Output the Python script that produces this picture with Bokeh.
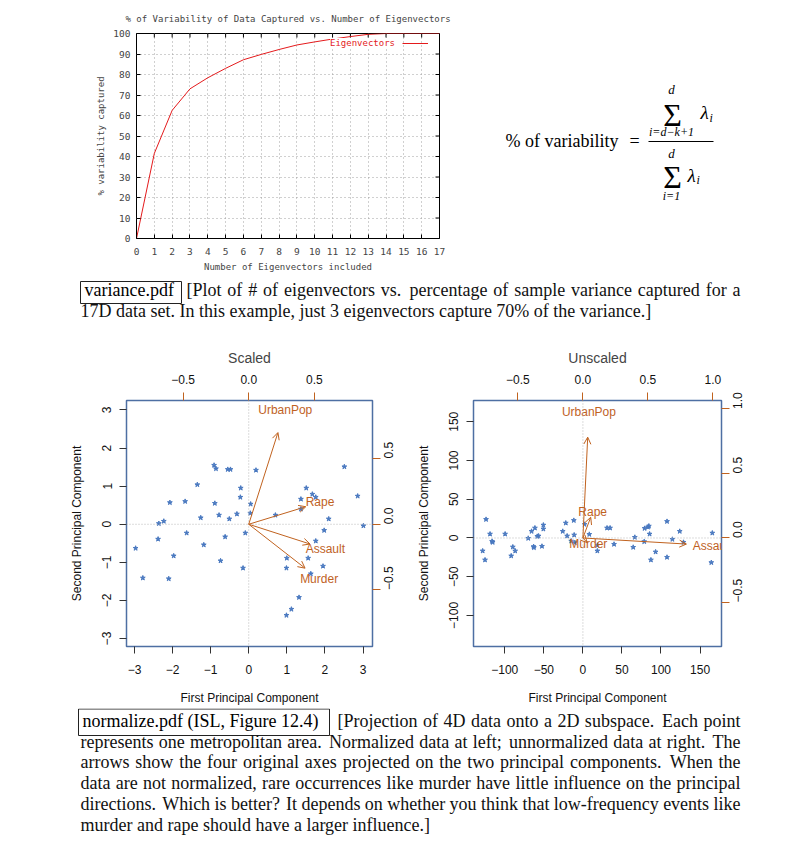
import glob
import numpy as np
from bokeh.plotting import figure
from bokeh.layouts import column, row
from bokeh.models import (Range1d, LinearAxis, ColumnDataSource, Arrow, OpenHead,
                          Span, Legend, LegendItem, Spacer)
from bokeh.core.properties import value
from bokeh.embed import file_html
from bokeh.resources import INLINE

# ---------------- data: variance plot ----------------
n_eigenvectors = list(range(18))
pct_captured = [0, 41.5, 62.5, 73.0, 78.4, 83.0, 87.2, 89.8, 92.2, 94.4, 95.9,
                97.3, 98.5, 99.6, 100, 100, 100, 100]
var_xticks = list(range(18))
var_yticks = list(range(0, 101, 10))

# ---------------- data: biplots ----------------
variables = ["Murder", "Assault", "UrbanPop", "Rape"]

scaled_pc1 = [-2.97, -2.78, -2.36, -2.38, -2.23, -2.07, -2.10, -1.97, -1.67, -1.63,
              -1.35, -1.26, -1.18, -0.91, -0.86, -0.89, -0.78, -0.74, -0.62, -0.55,
              -0.48, -0.51, -0.31, -0.21, -0.22, -0.09, -0.15, 0.05, 0.04, 0.19,
              0.70, 1.00, 0.99, 0.99, 1.12, 1.32, 1.37, 1.37, 1.51, 1.56,
              1.63, 1.67, 1.76, 1.76, 1.95, 1.98, 2.10, 2.51, 2.86, 3.01]
scaled_pc2 = [-0.63, -1.41, 0.02, -0.39, 0.08, 0.57, -1.43, -0.83, 0.60, -0.23,
              1.04, 0.17, -0.54, 1.55, 1.46, 0.55, 0.24, -0.96, -0.33, 1.44,
              1.44, 0.14, 0.27, 0.95, 0.71, -0.23, -1.15, 0.53, 0.29, 1.42,
              0.24, -0.89, -1.15, -2.39, -2.23, -1.92, 0.66, 0.40, 0.95, -0.89,
              -1.30, 0.79, 0.71, -0.44, -1.10, -0.16, 0.14, 1.51, 0.74, -0.04]
scaled_load1 = [0.536, 0.583, 0.278, 0.543]
scaled_load2 = [-0.418, -0.188, 0.873, 0.167]

unscaled_pc1 = [-128.3, -125.3, -124.0, -118.9, -116.3, -115.5, -99.6, -91.8, -89.7, -86.7,
                -70.0, -65.7, -63.1, -62.7, -61.4, -58.4, -56.7, -52.4, -50.6, -50.6,
                -25.8, -21.9, -20.2, -15.0, -11.6, -11.2, -10.3, 2.1, 8.2, 18.5,
                18.5, 30.9, 34.8, 39.9, 64.4, 66.5, 78.5, 79.0, 83.3, 84.5,
                85.4, 87.1, 93.1, 107.7, 107.7, 114.6, 124.0, 128.8, 165.7, 164.4]
unscaled_pc2 = [-16.7, -28.3, 24.0, 5.1, -4.3, -5.6, 5.1, -23.1, -11.6, -16.7,
                -0.4, 8.6, -11.1, -12.4, 12.9, 2.1, 2.6, -10.7, 16.7, 11.6,
                8.6, 19.3, 2.6, -3.9, 22.7, 3.9, -6.0, 17.6, 4.7, -16.7,
                -9.4, 12.9, 12.9, -8.1, -12.0, 0.9, -4.7, 12.4, 14.1, 15.4,
                5.1, -28.3, -18.0, 21.4, -24.9, -1.7, 8.6, -5.6, 6.4, -31.7]
unscaled_load1 = [0.0417, 0.995, 0.0463, 0.0752]
unscaled_load2 = [-0.0448, -0.0588, 0.977, 0.201]

scaled_score_ticks = [-3, -2, -1, 0, 1, 2, 3]
scaled_load_ticks = [-0.5, 0.0, 0.5]
unscaled_score_ticks = [-100, -50, 0, 50, 100, 150]
unscaled_load_ticks = [-0.5, 0.0, 0.5, 1.0]

# ---------------- captions ----------------
caption1_tag = "variance.pdf"
caption1_lines = ["[Plot of # of eigenvectors vs. percentage of sample variance captured for a",
                  "17D data set. In this example, just 3 eigenvectors capture 70% of the variance.]"]
caption2_tag = "normalize.pdf (ISL, Figure 12.4)"
caption2_lines = [
    "[Projection of 4D data onto a 2D subspace. Each point",
    "represents one metropolitan area. Normalized data at left; unnormalized data at right. The",
    "arrows show the four original axes projected on the two principal components. When the",
    "data are not normalized, rare occurrences like murder have little influence on the principal",
    "directions. Which is better? It depends on whether you think that low-frequency events like",
    "murder and rape should have a larger influence.]",
]

SERIF = "Liberation Serif"
SANS = "Liberation Sans"
MONOF = "DejaVu Sans Mono"
BLUE = "#4a79c0"
ORANGE = "#c0621f"
FRAME = "#4e6fa3"
RED = "#e41a1c"

# font metrics for justified caption lines (optional)
_measure = None
try:
    from PIL import ImageFont
    _cands = (glob.glob("/usr/share/fonts/**/LiberationSerif-Regular.ttf", recursive=True) +
              glob.glob("/usr/local/share/fonts/**/LiberationSerif-Regular.ttf", recursive=True))
    if _cands:
        _pf = ImageFont.truetype(_cands[0], 180)
        _measure = lambda s, size: _pf.getlength(s) * size / 180.0
except Exception:
    _measure = None


def page_fig(width, height, x0, y0, bt=0, bb=0):
    # figure whose data coordinates equal page pixels (y downwards)
    p = figure(width=width, height=height, x_range=Range1d(x0, x0 + width),
               y_range=Range1d(y0 + height - bb, y0 + bt), output_backend="svg",
               toolbar_location=None, x_axis_type=None, y_axis_type=None,
               min_border=0, min_border_top=bt, min_border_bottom=bb)
    p.outline_line_color = None
    return p


def mid(baseline, size):
    return baseline - 0.34 * size


# ================= variance plot =================
VW, VH, VL, VR, VT, VB = 452, 274, 128, 21, 33, 36
pv = figure(width=VW, height=VH, x_range=Range1d(0, 17), y_range=Range1d(0, 100),
            output_backend="svg", toolbar_location=None,
            min_border_left=VL, min_border_right=VR, min_border_top=VT,
            min_border_bottom=VB,
            title="% of Variability of Data Captured vs. Number of Eigenvectors")
pv.title.align = "center"
pv.title.text_font = MONOF
pv.title.text_font_size = "9px"
pv.title.text_font_style = "normal"
pv.title.standoff = 19
pv.outline_line_color = "black"
pv.outline_line_width = 1
pv.xaxis.ticker = var_xticks
pv.yaxis.ticker = var_yticks
for ax in [pv.xaxis[0], pv.yaxis[0]]:
    ax.major_tick_in = 4
    ax.major_tick_out = 0
    ax.minor_tick_line_color = None
    ax.axis_line_color = None
    ax.major_label_text_font = MONOF
    ax.major_label_text_font_size = "9.5px"
    ax.axis_label_text_font = MONOF
    ax.axis_label_text_font_size = "9px"
    ax.axis_label_text_font_style = "normal"
pv.xaxis.axis_label = "Number of Eigenvectors included"
pv.yaxis.axis_label = "% variability captured"
pv.xaxis.major_label_standoff = 9
pv.yaxis.major_label_standoff = 6
pv.xaxis.axis_label_standoff = 4
pv.yaxis.axis_label_standoff = 4
pv.grid.grid_line_color = "#a0a0a0"
pv.grid.grid_line_dash = "1 3"
pv.grid.grid_line_width = 1
# mirrored inward tick marks on the top and right edges (gnuplot style)
tick_dy = 4 * 100 / (VH - VT - VB)
tick_dx = 4 * 17 / (VW - VL - VR)
pv.segment(x0=var_xticks, y0=[100] * len(var_xticks), x1=var_xticks,
           y1=[100 - tick_dy] * len(var_xticks), line_color="black", line_width=1)
pv.segment(x0=[17] * len(var_yticks), y0=var_yticks, x1=[17 - tick_dx] * len(var_yticks),
           y1=var_yticks, line_color="black", line_width=1)
curve = pv.line(n_eigenvectors, pct_captured, line_color=RED, line_width=1)
leg_text = Legend(items=[LegendItem(label="Eigenvectors", renderers=[curve])],
                  location=(194, 190), glyph_width=0, glyph_height=10,
                  label_standoff=0, padding=0, margin=0, spacing=0,
                  label_height=10, border_line_color=None,
                  background_fill_color="white", background_fill_alpha=1,
                  label_text_color=RED, label_text_font=MONOF,
                  label_text_font_size="9px")
leg_line = Legend(items=[LegendItem(label=" ", renderers=[curve])],
                  location=(266, 190), glyph_width=26, glyph_height=10,
                  label_standoff=0, label_width=0, padding=0, margin=0,
                  label_height=10, border_line_color=None, background_fill_alpha=0,
                  label_text_font_size="9px")
pv.add_layout(leg_text)
pv.add_layout(leg_line)

# ================= formula =================
pf = page_fig(340, VH, 460, 0, bt=VT, bb=VB)
pf.text(x=[505], y=[mid(147, 18)], text=["% of variability"], text_font=value(SERIF),
        text_font_size="18px", text_align="left", text_baseline="middle")
pf.text(x=[634], y=[mid(147, 18)], text=["="], text_font=value(SERIF),
        text_font_size="18px", text_align="center", text_baseline="middle")
pf.segment(x0=[648], y0=[141], x1=[713], y1=[141], line_color="black", line_width=1)
pf.text(x=[672, 672], y=[mid(125, 32), mid(187, 32)], text=["\u03a3", "\u03a3"],
        text_font=value(SERIF), text_font_size="32px", text_align="center",
        text_baseline="middle")
pf.text(x=[671, 671], y=[mid(93, 13), mid(157, 13)], text=["d", "d"],
        text_font=value(SERIF), text_font_style="italic", text_font_size="13px",
        text_align="center", text_baseline="middle")
pf.text(x=[671, 671], y=[mid(136, 12), mid(200, 12)], text=["i=d\u2212k+1", "i=1"],
        text_font=value(SERIF), text_font_style="italic", text_font_size="12px",
        text_align="center", text_baseline="middle")
pf.text(x=[700, 687], y=[mid(118, 19), mid(181, 19)], text=["\u03bb", "\u03bb"],
        text_font=value(SERIF), text_font_style="italic", text_font_size="19px",
        text_align="left", text_baseline="middle")
pf.text(x=[709, 696], y=[mid(122, 12), mid(184, 12)], text=["i", "i"],
        text_font=value(SERIF), text_font_style="italic", text_font_size="12px",
        text_align="left", text_baseline="middle")


# ================= captions =================
def caption(p, tag, lines, box, first_x, base0, step, right=740, size=18):
    bl, br, bt, bb = box
    p.quad(left=[bl], right=[br], top=[bt], bottom=[bb], fill_color=None,
           line_color="#222222", line_width=1)
    p.text(x=[bl + 4], y=[mid(base0, size)], text=[tag], text_font=value(SERIF),
           text_font_size="%dpx" % size, text_align="left", text_baseline="middle")
    xs, ys, ts = [], [], []
    rx, ry, rt = [], [], []
    for i, ln in enumerate(lines):
        y = mid(base0 + i * step, size)
        x0 = first_x if i == 0 else 80
        last = (i == len(lines) - 1)
        if last:
            xs.append(x0); ys.append(y); ts.append(ln)
            continue
        words = ln.split(" ")
        if _measure is not None:
            widths = [_measure(w, size) for w in words]
            weights = [1.4 if w[-1] in ".?;" else 1.0 for w in words[:-1]]
            gap_unit = (right - x0 - sum(widths)) / sum(weights)
            x = x0
            for k, w in enumerate(words):
                xs.append(x); ys.append(y); ts.append(w)
                if k < len(weights):
                    x += widths[k] + gap_unit * weights[k]
        else:
            xs.append(x0); ys.append(y); ts.append(" ".join(words[:-1]))
            rx.append(right); ry.append(y); rt.append(words[-1])
    p.text(x=xs, y=ys, text=ts, text_font=value(SERIF), text_font_size="%dpx" % size,
           text_align="left", text_baseline="middle", text_color="#111111")
    if rt:
        p.text(x=rx, y=ry, text=rt, text_font=value(SERIF), text_font_size="%dpx" % size,
               text_align="right", text_baseline="middle", text_color="#111111")


pc1 = page_fig(792, 64, 8, 274)
caption(pc1, caption1_tag, caption1_lines, (80, 181, 281, 303), 186, 296, 21)
pc2 = page_fig(792, 132, 8, 708)
caption(pc2, caption2_tag, caption2_lines, (78, 329, 708.5, 735), 337, 726.5, 20.8)


# ================= biplots =================
def unsigned_range(v):
    return (-abs(min(v)), abs(max(v)))


def biplot_limits(s1, s2, l1, l2):
    r1, r2 = unsigned_range(s1), unsigned_range(s2)
    lo, hi = min(r1[0], r2[0]), max(r1[1], r2[1])
    q1, q2 = unsigned_range(l1), unsigned_range(l2)
    ratio = max(q1[0] / lo, q1[1] / hi, q2[0] / lo, q2[1] / hi)

    def ext(a, b):
        return (a - 0.04 * (b - a), b + 0.04 * (b - a))
    return ext(lo, hi), ext(lo * ratio, hi * ratio)


def fmt(t, dec):
    s = ("%.1f" % t) if dec else ("%d" % t)
    return s.replace("-", "\u2212")


def style_axis(ax, color, tick_out, standoff, orient=None):
    ax.major_tick_out = tick_out
    ax.major_tick_in = 0
    ax.major_tick_line_color = color
    ax.minor_tick_line_color = None
    ax.axis_line_color = None
    ax.major_label_text_font = SANS
    ax.major_label_text_font_size = "12px"
    ax.major_label_text_color = "#111111"
    ax.major_label_standoff = standoff
    ax.axis_label_text_font = SANS
    ax.axis_label_text_font_size = "12px"
    ax.axis_label_text_font_style = "normal"
    ax.axis_label_text_color = "#111111"
    if orient is not None:
        ax.major_label_orientation = orient


def biplot(title, s1, s2, l1, l2, sticks, lticks, width, mbl, mbr):
    (lo, hi), (llo, lhi) = biplot_limits(s1, s2, l1, l2)
    p = figure(width=width, height=370, x_range=Range1d(lo, hi), y_range=Range1d(lo, hi),
               output_backend="svg", toolbar_location=None, title=title,
               min_border_left=mbl, min_border_right=mbr, min_border_top=62,
               min_border_bottom=62)
    p.extra_x_ranges = {"load": Range1d(llo, lhi)}
    p.extra_y_ranges = {"load": Range1d(llo, lhi)}
    p.title.align = "center"
    p.title.text_font = SANS
    p.title.text_font_size = "14px"
    p.title.text_font_style = "normal"
    p.title.standoff = 11
    p.grid.visible = False
    p.outline_line_color = FRAME
    p.outline_line_width = 1.5
    p.xaxis.ticker = sticks
    p.yaxis.ticker = sticks
    p.xaxis.major_label_overrides = {t: fmt(t, False) for t in sticks}
    p.yaxis.major_label_overrides = {t: fmt(t, False) for t in sticks}
    p.xaxis.axis_label = "First Principal Component"
    p.yaxis.axis_label = "Second Principal Component"
    style_axis(p.xaxis[0], "#333333", 7, 11)
    style_axis(p.yaxis[0], "#333333", 7, 8, "vertical")
    p.xaxis.axis_label_standoff = 14
    p.yaxis.axis_label_standoff = 16
    top = LinearAxis(x_range_name="load", ticker=lticks,
                     major_label_overrides={t: fmt(t, True) for t in lticks})
    style_axis(top, ORANGE, 8, 9)
    p.add_layout(top, "above")
    right = LinearAxis(y_range_name="load", ticker=lticks,
                       major_label_overrides={t: fmt(t, True) for t in lticks})
    style_axis(right, ORANGE, 8, 8, np.pi / 2)
    p.add_layout(right, "right")
    p.add_layout(Span(location=0, dimension="height", line_color="#b8b8b8",
                      line_dash="1 2", line_width=1))
    p.add_layout(Span(location=0, dimension="width", line_color="#b8b8b8",
                      line_dash="1 2", line_width=1))
    p.scatter(s1, s2, marker="star", size=5, fill_color=BLUE, line_color=BLUE)
    src = ColumnDataSource(dict(xe=[0.8 * v for v in l1], ye=[0.8 * v for v in l2]))
    p.add_layout(Arrow(end=OpenHead(size=7, line_color=ORANGE, line_width=1),
                       x_start=0, y_start=0, x_end="xe", y_end="ye", source=src,
                       line_color=ORANGE, line_width=1,
                       x_range_name="load", y_range_name="load"))
    p.text(x=l1, y=l2, text=variables, x_range_name="load", y_range_name="load",
           text_align="center", text_baseline="middle", text_color=ORANGE,
           text_font=value(SANS), text_font_size="12px")
    return p


ps = biplot("Scaled", scaled_pc1, scaled_pc2, scaled_load1, scaled_load2,
            scaled_score_ticks, scaled_load_ticks, 403, 118, 39)
pu = biplot("Unscaled", unscaled_pc1, unscaled_pc2, unscaled_load1, unscaled_load2,
            unscaled_score_ticks, unscaled_load_ticks, 389, 62, 79)

content = column(row(pv, pf), pc1, row(ps, pu), pc2)
layout = row(Spacer(width=8), content)
open("out.html", "w").write(file_html(layout, INLINE))
